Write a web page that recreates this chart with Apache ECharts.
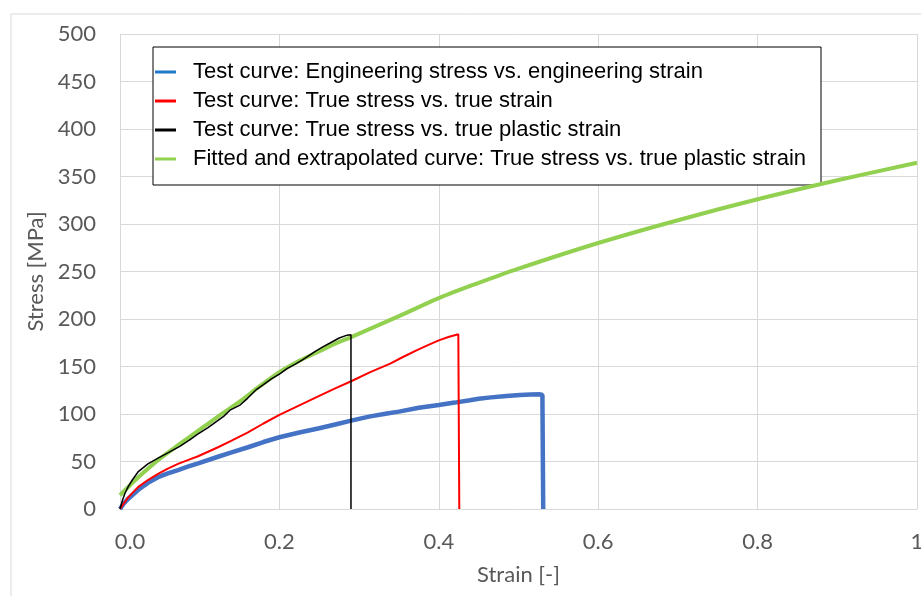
<!DOCTYPE html>
<html>
<head>
<meta charset="utf-8">
<script src="https://cdn.jsdelivr.net/npm/echarts@6/dist/echarts.min.js"></script>
<style>html,body{margin:0;padding:0;background:#fff;}#c{width:921px;height:596px;}</style>
</head>
<body>
<div id="c"></div>
<script>
// ---- data ----
const seriesNames = [
  'Test curve: Engineering stress vs. engineering strain',
  'Test curve: True stress vs. true strain',
  'Test curve: True stress vs. true plastic strain',
  'Fitted and extrapolated curve: True stress vs. true plastic strain'
];
const xTickLabels = ['0.0', '0.2', '0.4', '0.6', '0.8', '1'];
const yTickValues = [0, 50, 100, 150, 200, 250, 300, 350, 400, 450, 500];

const engStrain = [0, 0.004, 0.01, 0.0226, 0.035, 0.0477, 0.06, 0.0728, 0.085, 0.098, 0.123, 0.14, 0.1606, 0.18, 0.2, 0.225, 0.25, 0.27, 0.29, 0.314, 0.335, 0.35, 0.375, 0.4, 0.42, 0.439, 0.45, 0.4655, 0.485, 0.502, 0.515, 0.527, 0.530, 0.531];
const engStress = [0, 5, 10.5, 20, 27.5, 33.5, 37.5, 41, 44.5, 48, 55, 59.5, 65, 70.5, 75.5, 80.5, 85, 89, 93, 97.5, 100.5, 102.5, 106.5, 109.5, 112, 114.5, 116, 117.5, 119, 120, 120.5, 120.7, 120, 0];

const trueStrain = [0, 0.005, 0.01, 0.0226, 0.035, 0.0477, 0.06, 0.0728, 0.085, 0.098, 0.123, 0.14, 0.16, 0.18, 0.2, 0.225, 0.25, 0.27, 0.29, 0.314, 0.339, 0.355, 0.372, 0.385, 0.4, 0.412, 0.4245, 0.4257];
const trueStress = [0, 6, 12, 23, 30.5, 37, 42.5, 47.5, 51.5, 55.5, 65, 72, 80.5, 90, 99, 109, 119, 127, 134.5, 144, 153, 160, 167, 172, 177.5, 181, 184, 0];

const plStrain = [0, 0.003, 0.006, 0.01, 0.015, 0.0226, 0.035, 0.0477, 0.06, 0.075, 0.087, 0.098, 0.11, 0.12, 0.13, 0.138, 0.15, 0.16, 0.1715, 0.18, 0.19, 0.2, 0.21, 0.22, 0.23, 0.245, 0.255, 0.263, 0.275, 0.285, 0.2898, 0.2898];
const plStress = [0, 9, 16, 23, 30, 39, 47.5, 53.5, 59, 66, 72.5, 79, 85.5, 91.5, 97.5, 104, 109, 116.5, 126, 131, 137, 142, 148, 152.5, 157.5, 166, 171, 174.5, 180, 183, 183.5, 0];

const fitStrain = [0, 0.0125, 0.025, 0.05, 0.075, 0.1, 0.125, 0.15, 0.175, 0.2, 0.225, 0.25, 0.27, 0.29, 0.35, 0.4, 0.45, 0.5, 0.6, 0.7, 0.8, 0.9, 1.0];
const fitStress = [14.5, 25, 35, 53, 68.5, 83.5, 98.5, 113, 129, 144, 156, 166, 174, 181, 203, 222, 238, 253, 280, 304, 326, 346, 364.5];

const zip = (xs, ys) => xs.map((x, i) => [x, ys[i]]);

const chart = echarts.init(document.getElementById('c'), null, {renderer: 'canvas'});
const tickFont = 'Lato';
chart.setOption({
  animation: false,
  backgroundColor: '#ffffff',
  graphic: [{
    type: 'rect', z: -10, silent: true,
    shape: {x: 11, y: 14, width: 940, height: 620},
    style: {fill: 'none', stroke: '#d9d9d9', lineWidth: 1}
  }],
  grid: {left: 120, right: 4, top: 34, bottom: 87, outerBoundsMode: 'none', containLabel: false},
  legend: {
    orient: 'vertical',
    left: 153, top: 47,
    padding: [14, 15, 15, 2],
    itemGap: 7,
    itemWidth: 21, itemHeight: 3,
    icon: 'rect',
    backgroundColor: '#ffffff',
    borderColor: '#000000', borderWidth: 1,
    textStyle: {fontFamily: 'Liberation Sans', fontSize: 22, color: '#000', padding: [0, 0, 0, 12]},
    data: seriesNames
  },
  xAxis: {
    type: 'value', min: 0, max: 1, interval: 0.2,
    name: 'Strain [-]', nameLocation: 'middle', nameGap: 55,
    nameTextStyle: {fontFamily: tickFont, fontSize: 22, color: '#595959'},
    axisLine: {show: true, lineStyle: {color: '#d9d9d9', width: 1}},
    axisTick: {show: false},
    splitLine: {show: true, lineStyle: {color: '#d9d9d9', width: 1}},
    axisLabel: {
      margin: 22, fontFamily: tickFont, fontSize: 22, color: '#595959',
      formatter: (v) => {
        const i = Math.round(v / 0.2);
        const t = xTickLabels[i] !== undefined ? xTickLabels[i] : '';
        return i === 0 ? '{f|' + t + '}' : t;
      },
      rich: {f: {fontFamily: tickFont, fontSize: 22, color: '#595959', padding: [0, 0, 0, 20]}}
    }
  },
  yAxis: {
    type: 'value', min: 0, max: 500, interval: 50,
    name: 'Stress [MPa]', nameLocation: 'middle', nameGap: 67,
    nameTextStyle: {fontFamily: tickFont, fontSize: 22, color: '#595959'},
    axisLine: {show: false},
    axisTick: {show: false},
    splitLine: {show: true, lineStyle: {color: '#d9d9d9', width: 1}},
    axisLabel: {margin: 24, fontFamily: tickFont, fontSize: 22, color: '#595959',
      formatter: (v) => yTickValues.indexOf(v) >= 0 ? String(v) : ''}
  },
  series: [
    {name: seriesNames[0], type: 'line', data: zip(engStrain, engStress), showSymbol: false, z: 2,
     itemStyle: {color: '#1f78c8'}, lineStyle: {color: '#4472C4', width: 4.5}},
    {name: seriesNames[1], type: 'line', data: zip(trueStrain, trueStress), showSymbol: false, z: 3,
     itemStyle: {color: '#ff0000'}, lineStyle: {color: '#ff0000', width: 2}},
    {name: seriesNames[3], type: 'line', data: zip(fitStrain, fitStress), showSymbol: false, smooth: 0.3, z: 4,
     itemStyle: {color: '#92D050'}, lineStyle: {color: '#92D050', width: 4}},
    {name: seriesNames[2], type: 'line', data: zip(plStrain, plStress), showSymbol: false, z: 5,
     itemStyle: {color: '#000000'}, lineStyle: {color: '#000000', width: 1.5}}
  ]
});
</script>
</body>
</html>
